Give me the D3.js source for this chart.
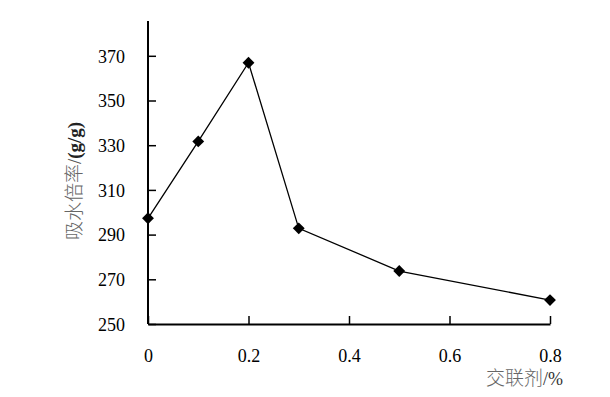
<!DOCTYPE html>
<html>
<head>
<meta charset="utf-8">
<script src="https://cdn.jsdelivr.net/npm/d3@7"></script>
<style>
  body { margin: 0; background: white; }
  svg { display: block; }
  .serif, .serif text { font-family: "Liberation Serif", "Times New Roman", "DejaVu Serif", serif; }
</style>
</head>
<body>
<div id="chart"></div>
<script>
// 데이터
const crosslinker = [0, 0.1, 0.2, 0.3, 0.5, 0.8];
const absorbency = [297.3, 331.7, 366.9, 292.8, 273.7, 260.7];
const xTicks = [0, 0.2, 0.4, 0.6, 0.8];
const yTicks = [250, 270, 290, 310, 330, 350, 370];

const W = 610, H = 397;
const svg = d3.select("#chart").append("svg")
  .attr("width", W).attr("height", H)
  .attr("class", "serif")
  .style("background", "white");

// 축 위치
const plotL = 148, plotR = 550, plotT = 21, plotB = 324;

const x = d3.scaleLinear().domain([0, 0.8]).range([plotL, plotR]);
const y = d3.scaleLinear().domain([250, 250 + (plotB - plotT) / 44.7 * 20]).range([plotB, plotT]);

// x축
const xAxis = svg.append("g")
  .attr("transform", `translate(0,${plotB})`)
  .call(d3.axisBottom(x).tickValues(xTicks).tickSize(-8).tickSizeOuter(0)
    .tickFormat(d => d === 0 ? "0" : d3.format(".1f")(d)))
  .attr("font-family", null).attr("font-size", null);
xAxis.select(".domain").attr("stroke", "#000").attr("stroke-width", 2);
xAxis.selectAll(".tick line").attr("stroke", "#000").attr("stroke-width", 1.5);
xAxis.selectAll(".tick text")
  .attr("y", 38).attr("dy", 0)
  .attr("fill", "#000")
  .style("font-size", "18px");

// y축
const yAxis = svg.append("g")
  .attr("transform", `translate(${plotL},0)`)
  .call(d3.axisLeft(y).tickValues(yTicks).tickSize(-8).tickSizeOuter(0))
  .attr("font-family", null).attr("font-size", null);
yAxis.select(".domain").attr("stroke", "#000").attr("stroke-width", 2)
  .attr("d", `M0,${plotB}V${plotT}`);
yAxis.selectAll(".tick line").attr("stroke", "#000").attr("stroke-width", 1.5);
yAxis.selectAll(".tick text")
  .attr("x", -23).attr("dy", "0.35em")
  .attr("fill", "#000")
  .style("font-size", "18px");

// 선
const pts = crosslinker.map((c, i) => ({ c, v: absorbency[i] }));
svg.append("path")
  .datum(pts)
  .attr("fill", "none")
  .attr("stroke", "#000")
  .attr("stroke-width", 1.3)
  .attr("d", d3.line().x(d => x(d.c)).y(d => y(d.v)));

// 마커 (마름모)
svg.selectAll(".dot")
  .data(pts)
  .enter().append("path")
  .attr("class", "dot")
  .attr("d", d3.symbol(d3.symbolSquare, 70))
  .attr("transform", d => `translate(${x(d.c)},${y(d.v)}) rotate(45)`)
  .attr("fill", "#000");

// 축 제목
const xt = svg.append("text")
  .attr("x", 563).attr("y", 385)
  .attr("text-anchor", "end")
  .style("font-size", "18px");
xt.append("tspan").attr("fill", "#666")
  .style("font-family", "'Noto Sans CJK SC', sans-serif").style("font-weight", 300)
  .style("font-size", "19px")
  .text("交联剂");
xt.append("tspan").attr("fill", "#333").text("/%");

const yt = svg.append("text")
  .attr("transform", "translate(81,181) rotate(-90)")
  .attr("text-anchor", "middle")
  .style("font-size", "19px");
yt.append("tspan").attr("fill", "#666")
  .style("font-family", "'Noto Sans CJK SC', sans-serif").style("font-weight", 300)
  .text("吸水倍率");
yt.append("tspan").attr("fill", "#555").text("/");
yt.append("tspan").attr("fill", "#222")
  .style("font-weight", "bold").text("(g/g)");
</script>
</body>
</html>
